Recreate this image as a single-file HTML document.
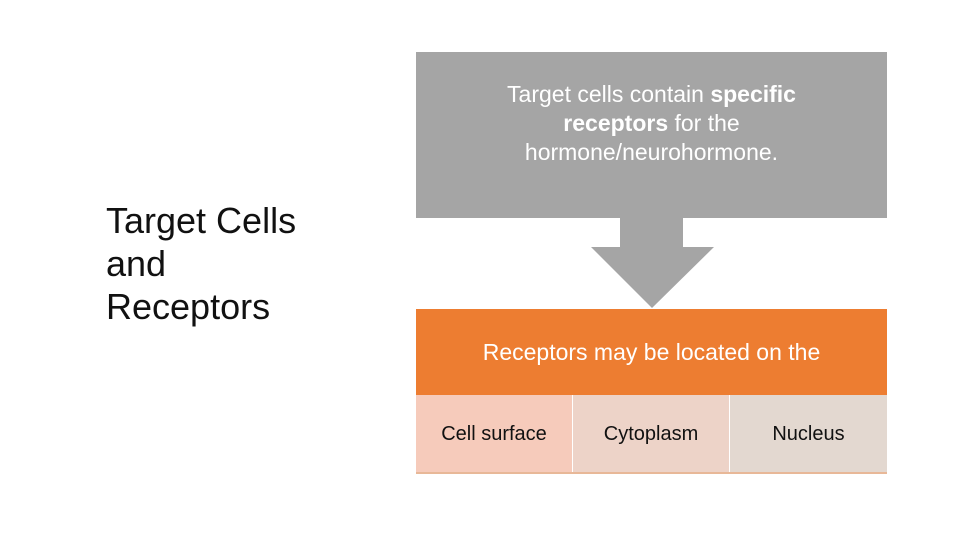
<!DOCTYPE html>
<html><head><style>
body{margin:0;width:960px;height:540px;background:#fff;position:relative;overflow:hidden;font-family:"Liberation Sans",sans-serif}
div{position:absolute;box-sizing:border-box}
.c{display:flex;align-items:center;justify-content:center;text-align:center}
</style></head><body>
<div style="left:106px;top:199px;font-size:36px;line-height:43px;color:#111">Target Cells<br>and<br>Receptors</div>
<div class="c" style="left:416px;top:52px;width:471px;height:166px;background:#a5a5a5;color:#fff;font-size:23px;line-height:29px;padding:0 50px 24px">
<span>Target cells contain <b>specific receptors</b> for the hormone/neurohormone.</span></div>
<svg style="position:absolute;left:0;top:0" width="960" height="540">
<polygon points="620,218 683,218 683,247 714,247 652,308 591,247 620,247" fill="#a5a5a5"/>
</svg>
<div class="c" style="left:416px;top:309px;width:471px;height:86px;background:#ed7d31;color:#fff;font-size:23px;padding-bottom:0px">Receptors may be located on the</div>
<div class="c" style="left:416px;top:395px;width:156px;height:78px;background:#f6cbbb;font-size:20px;color:#111">Cell surface</div>
<div class="c" style="left:573px;top:395px;width:156px;height:78px;background:#edd3c8;font-size:20px;color:#111">Cytoplasm</div>
<div class="c" style="left:730px;top:395px;width:157px;height:78px;background:#e3d8d0;font-size:20px;color:#111;padding-left:0px">Nucleus</div>
<div style="left:416px;top:472px;width:471px;height:2px;background:#e8b898"></div>
</body></html>
